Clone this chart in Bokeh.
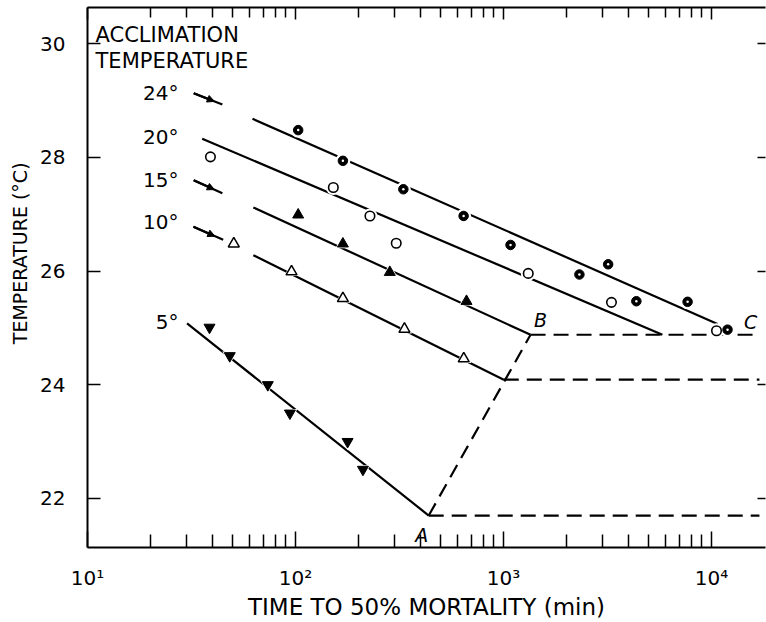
import numpy as np
from bokeh.plotting import figure
from bokeh.models import (Range1d, LogAxis, LinearAxis, FixedTicker, Arrow, NormalHead,
                          ColumnDataSource, CustomJSTickFormatter)
from bokeh.core.properties import value
from bokeh.embed import file_html
from bokeh.resources import INLINE

# ---------------- data ----------------
# time to 50% mortality (min) and test temperature (deg C) per acclimation temperature
t24 = [103, 169, 330, 643, 1081, 2317, 3185, 4352, 7674, 11940]
T24 = [28.48, 27.94, 27.44, 26.97, 26.46, 25.94, 26.12, 25.47, 25.46, 24.97]
t20 = [39, 152, 228, 305, 1315, 3304, 10570]
T20 = [28.01, 27.47, 26.97, 26.49, 25.96, 25.45, 24.95]
t15 = [103, 169, 284, 664]
T15 = [26.99, 26.48, 25.98, 25.47]
t10 = [50.5, 95.7, 169, 334, 644]
T10 = [26.48, 25.99, 25.52, 24.98, 24.46]
t5 = [38.6, 48.3, 73.6, 94, 178, 211]
T5 = [25.01, 24.51, 24.00, 23.50, 23.00, 22.51]

# fitted regression lines, order: 24, 20, 15, 10, 5
series_labels = ["24°", "20°", "15°", "10°", "5°"]
line_t_start = [62.1, 35.6, 62.7, 62.7, 30.1]
line_T_start = [28.68, 28.33, 27.12, 26.28, 25.08]
line_t_end = [10690, 5808, 1349, 1003, 437]
line_T_end = [25.07, 24.88, 24.88, 24.09, 21.70]

# short extrapolation arrows (24, 15, 10)
arrow_t_start = [32.4, 32.4, 32.3]
arrow_T_start = [29.13, 27.60, 26.78]
arrow_t_end = [44.5, 44.5, 44.9]
arrow_T_end = [28.93, 27.37, 26.55]

# incipient lethal levels (A, 10 deg end, B)
plateau_t_start = [437, 1003, 1349]
plateau_T = [21.70, 24.09, 24.88]
plateau_t_end = [17000, 17000, 17000]

# annotation letters
letters = ["A", "B", "C"]
letter_t = [404, 1507, 15420]
letter_T = [21.35, 25.14, 25.11]

# series label positions
label_t = [27.4, 27.4, 27.4, 27.4, 27.4]
label_T = [29.13, 28.36, 27.60, 26.87, 25.11]

header = ["ACCLIMATION", "TEMPERATURE"]
header_t = [10.93, 10.93]
header_T = [30.16, 29.70]

x_major = [10, 100, 1000, 10000]
x_tick_labels = ["10¹", "10²", "10³", "10⁴"]
x_minor = [m * 10 ** d for d in range(1, 5) for m in range(2, 10)]
y_ticks = [22, 24, 26, 28, 30]
y_title = "TEMPERATURE (°C)"
x_title = "TIME TO 50% MORTALITY (min)"

FONT = "DejaVu Sans"
INK = "black"

p = figure(width=766, height=622, x_axis_type="log",
           x_range=Range1d(10, 18180), y_range=Range1d(21.138, 30.637),
           output_backend="svg", toolbar_location=None,
           min_border_left=87, min_border_right=1, min_border_top=7, min_border_bottom=74,
           x_axis_label=x_title,
           # non-breaking padding lifts the title slightly above the frame centre, as in the original
           y_axis_label="\u00a0" * 8 + y_title)
p.grid.visible = False
p.outline_line_color = None
p.background_fill_color = "white"
p.border_fill_color = "white"

xt = FixedTicker(ticks=x_major, minor_ticks=x_minor)
yt = FixedTicker(ticks=y_ticks, minor_ticks=[])

xa = p.xaxis[0]
xa.ticker = xt
xa.major_label_overrides = {v: s for v, s in zip(x_major, x_tick_labels)}
xa.major_tick_in = 16
xa.major_tick_out = 0
xa.minor_tick_in = 13
xa.minor_tick_out = 0
xa.axis_line_width = 2
xa.major_tick_line_width = 1.5
xa.minor_tick_line_width = 1.5
xa.major_label_text_font = FONT
xa.major_label_text_font_size = "20px"
xa.major_label_text_color = INK
xa.major_label_standoff = 18
xa.axis_label_text_font = FONT
xa.axis_label_text_font_style = "normal"
xa.axis_label_text_font_size = "23px"
xa.axis_label_text_color = INK
xa.axis_label_standoff = 1

ya = p.yaxis[0]
ya.ticker = yt
ya.major_tick_in = 13
ya.major_tick_out = 0
ya.minor_tick_in = 0
ya.minor_tick_out = 0
ya.axis_line_width = 2
ya.major_tick_line_width = 1.5
ya.major_label_text_font = FONT
ya.major_label_text_font_size = "20px"
ya.major_label_text_color = INK
ya.major_label_standoff = 22
ya.axis_label_text_font = FONT
ya.axis_label_text_font_style = "normal"
ya.axis_label_text_font_size = "19px"
ya.axis_label_text_color = INK
ya.axis_label_standoff = 6

blank = CustomJSTickFormatter(code="return ''")
top = LogAxis(ticker=xt, formatter=blank, major_tick_in=12, major_tick_out=0,
              minor_tick_in=10, minor_tick_out=0, axis_line_width=2,
              major_tick_line_width=1.5, minor_tick_line_width=1.5,
              major_label_text_font_size="0px", major_label_standoff=0)
p.add_layout(top, "above")
right = LinearAxis(ticker=yt, formatter=blank, major_tick_in=8, major_tick_out=0,
                   minor_tick_in=0, minor_tick_out=0, axis_line_color=None,
                   major_tick_line_width=1.5,
                   major_label_text_font_size="0px", major_label_standoff=0)
p.add_layout(right, "right")

LW = 2.2
# regression lines
p.segment(x0=line_t_start, y0=line_T_start, x1=line_t_end, y1=line_T_end,
          line_color=INK, line_width=LW)
# extrapolation arrows
p.segment(x0=arrow_t_start, y0=arrow_T_start, x1=arrow_t_end, y1=arrow_T_end,
          line_color=INK, line_width=LW)
la0, la1 = np.log10(arrow_t_start), np.log10(arrow_t_end)
tip_t = list(10 ** (la0 + 0.72 * (la1 - la0)))
tip_T = list(np.array(arrow_T_start) + 0.72 * (np.array(arrow_T_end) - np.array(arrow_T_start)))
asrc = ColumnDataSource(dict(x0=arrow_t_start, y0=arrow_T_start, x1=tip_t, y1=tip_T))
p.add_layout(Arrow(source=asrc, x_start="x0", y_start="y0", x_end="x1", y_end="y1",
                   line_width=LW, line_color=INK,
                   end=NormalHead(size=7, fill_color=INK, line_color=INK, line_width=1)))

# dashed lethal levels
p.segment(x0=plateau_t_start, y0=plateau_T, x1=plateau_t_end, y1=plateau_T,
          line_color=INK, line_width=LW, line_dash="15 8")
p.segment(x0=[plateau_t_start[0]], y0=[plateau_T[0]], x1=[plateau_t_start[2]], y1=[plateau_T[2]],
          line_color=INK, line_width=LW, line_dash="14 8")

# white halos (gaps in the lines around the symbols)
for tt, TT, mk in [(t24, T24, "circle"), (t20, T20, "circle"), (t15, T15, "triangle"),
                   (t10, T10, "triangle"), (t5, T5, "inverted_triangle")]:
    p.scatter(tt, TT, marker=mk, size=15, fill_color="white", line_color=None)

# symbols
p.scatter(t24, T24, marker="circle", size=9.5, fill_color=INK, line_color=INK)
p.scatter(t24, T24, marker="circle", size=2.5, fill_color="white", line_color=None)
p.scatter(t20, T20, marker="circle", size=9.5, fill_color="white", line_color=INK, line_width=1.6)
p.scatter(t15, T15, marker="triangle", size=11, fill_color=INK, line_color=INK)
p.scatter(t10, T10, marker="triangle", size=11, fill_color="white", line_color=INK, line_width=1.5)
p.scatter(t5, T5, marker="inverted_triangle", size=11, fill_color=INK, line_color=INK)

# texts
p.text(x=header_t, y=header_T, text=header, text_font=value(FONT), text_font_size="21px",
       text_align="left", text_baseline="middle", text_color=INK)
p.text(x=label_t, y=label_T, text=series_labels, text_font=value(FONT), text_font_size="20px",
       text_align="right", text_baseline="middle", text_color=INK)
p.text(x=letter_t, y=letter_T, text=letters, text_font=value(FONT), text_font_size="19px",
       text_font_style="italic", text_align="center", text_baseline="middle", text_color=INK)

open("out.html", "w").write(file_html(p, INLINE))
